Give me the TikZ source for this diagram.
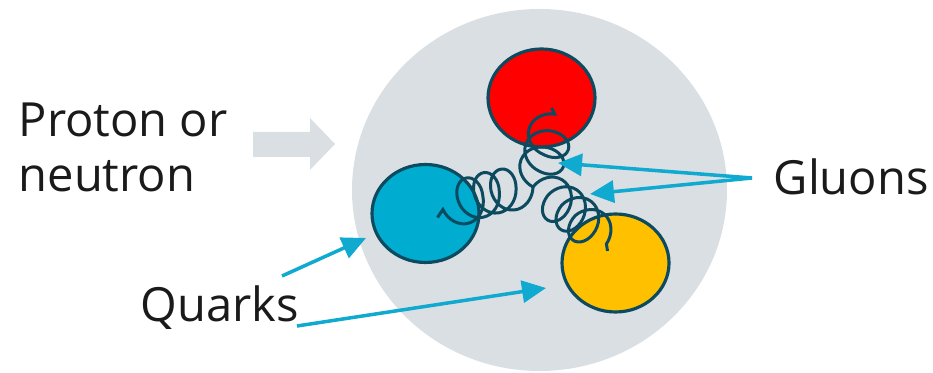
\documentclass[tikz,border=0pt]{standalone}
\usepackage{fontspec}
\setmainfont{Open Sans}
\usetikzlibrary{arrows.meta,decorations.pathmorphing,positioning,shapes.geometric}

\definecolor{haze}{HTML}{DADFE3}
\definecolor{rim}{HTML}{0B4A5F}
\definecolor{ink}{HTML}{1A1A1A}
\definecolor{sky}{HTML}{10A9D0}
\definecolor{qred}{HTML}{FF0000}
\definecolor{qblue}{HTML}{00ACCF}
\definecolor{qyellow}{HTML}{FFC000}

\begin{document}
\begin{tikzpicture}[
	txt/.style={font=\fontsize{13.4}{16}\selectfont, text=ink, inner sep=0pt, anchor=base west},
	quark/.style={ellipse, draw=rim, line width=0.9pt, inner sep=0pt, minimum width=1.07cm, minimum height=0.98cm},
	gluon/.style={draw=rim, line width=0.85pt, decorate,
		decoration={coil, amplitude=2.1mm, segment length=1.7mm, aspect=0.8}},
	pointer/.style={draw=sky, line width=1pt, -{Triangle[length=2.4mm, width=2.2mm]}}
]
\useasboundingbox (0,0) rectangle (9.33,3.73);

% the nucleon and the fat arrow pointing at it
\fill[haze] (5.395,1.83) ellipse [x radius=1.875, y radius=1.81];
\fill[haze] (2.53,2.16) -- (3.10,2.16) -- (3.10,2.03) -- (3.35,2.29)
	-- (3.10,2.55) -- (3.10,2.41) -- (2.53,2.41) -- cycle;

% quarks
\node[quark, fill=qred] (red) at (5.415,2.75) {};
\node[quark, fill=qblue] (blue) at (4.255,1.595) {};
\node[quark, fill=qyellow] (yellow) at (6.155,1.10) {};

% gluons between them
\coordinate (mid) at (5.33,1.86);
\draw[gluon] (mid) to[bend right=8] ([xshift=1mm, yshift=-1mm]red.center);
\draw[gluon] (mid) to[bend right=12] ([xshift=1.2mm, yshift=-0.4mm]blue.center);
\draw[gluon] (mid) to[bend left=10] ([xshift=-0.8mm, yshift=1.2mm]yellow.center);

% labels
\node[txt] (proton) at (0.18,2.36) {Proton or};
\node[txt] (neutron) at ([yshift=-0.55cm]proton.base west) {neutron};
\node[txt] (gluons) at (7.73,1.78) {Gluons};
\node[txt] (quarks) at (1.40,0.51) {Quarks};

% pointers
\coordinate (g-fork) at (7.52,1.95);
\coordinate (g-a) at (5.58,2.10);
\coordinate (g-b) at (5.90,1.79);
\draw[pointer] (g-fork) -- (g-a);
\draw[pointer] (g-fork) -- (g-b);

\coordinate (q-one) at (2.82,0.97);
\coordinate (q-two) at (2.97,0.47);
\coordinate (q-a) at (3.66,1.35);
\coordinate (q-b) at (5.46,0.85);
\draw[pointer] (q-one) -- (q-a);
\draw[pointer] (q-two) -- (q-b);

\end{tikzpicture}
\end{document}
